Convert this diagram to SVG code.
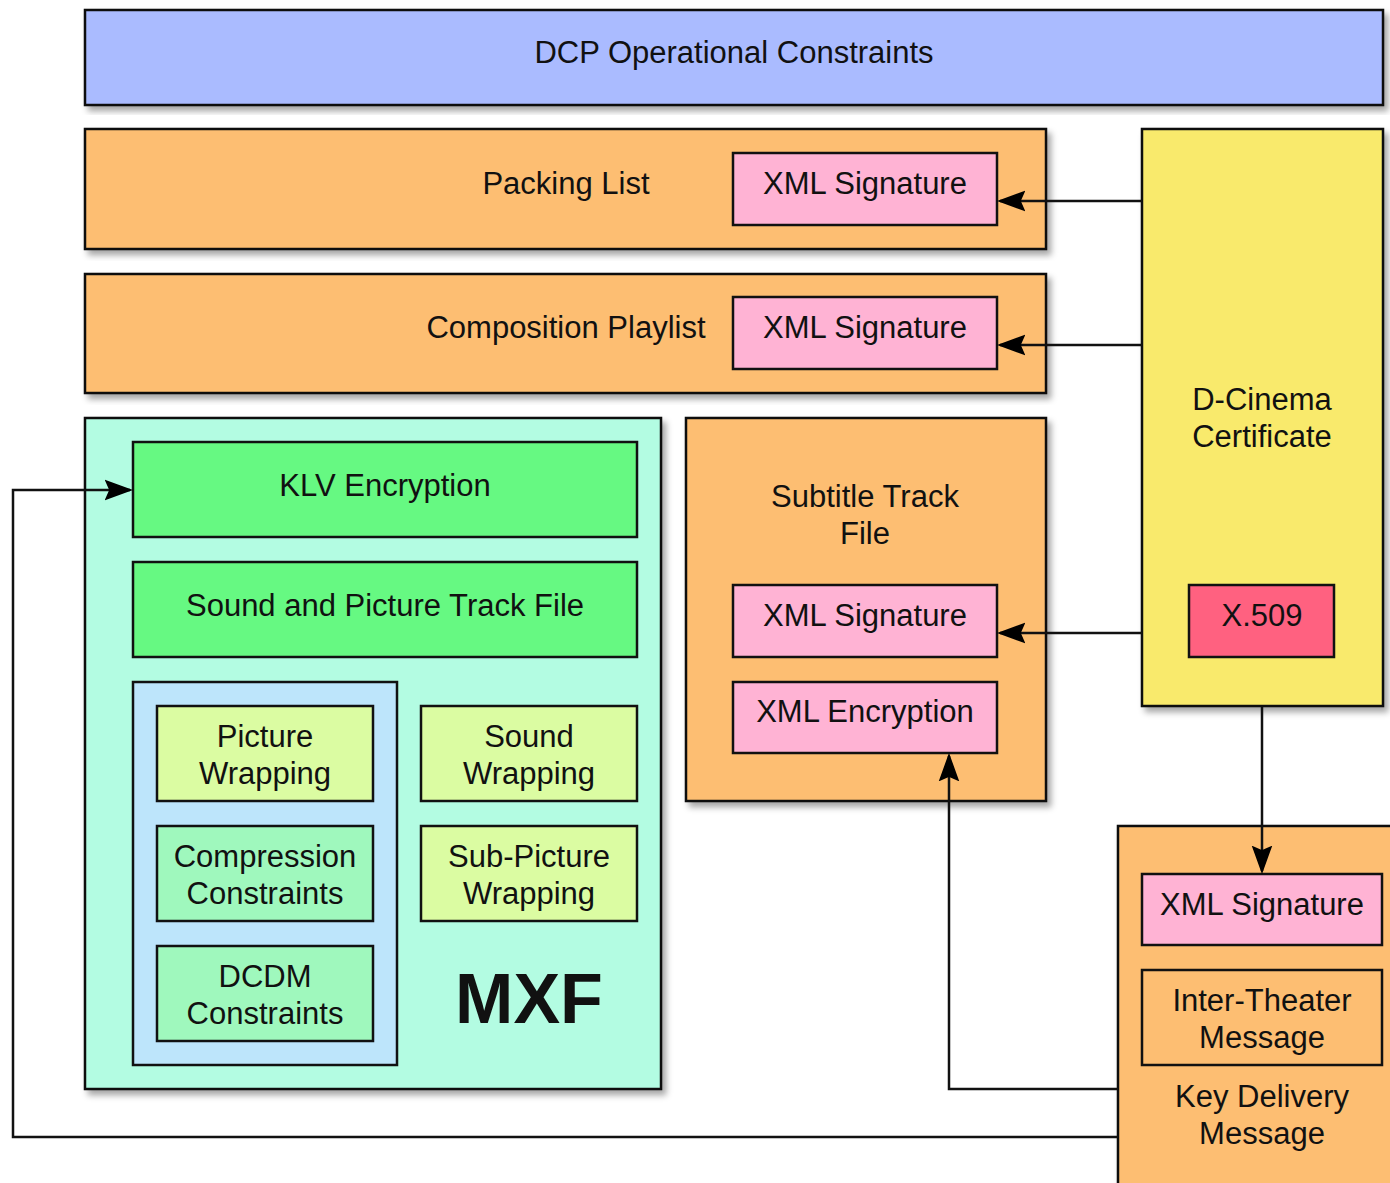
<svg xmlns="http://www.w3.org/2000/svg" width="1390" height="1183" viewBox="0 0 1390 1183">
<defs>
<filter id="sh" x="-5%" y="-5%" width="115%" height="115%">
<feDropShadow dx="4" dy="5" stdDeviation="3" flood-color="#000" flood-opacity="0.35"/>
</filter>
<marker id="ah" markerUnits="userSpaceOnUse" markerWidth="28" markerHeight="22" refX="25" refY="11" orient="auto" viewBox="0 0 28 22">
<path d="M1,2 L26,11 L1,20 L5,11 Z" fill="#000" stroke="#000" stroke-width="1.5" stroke-linejoin="miter"/>
</marker>
<style>
rect{stroke:#111;stroke-width:2.5}
.o{filter:url(#sh)}
text{font-family:"Liberation Sans",Arial,Helvetica,sans-serif;font-size:31px;fill:#111;text-anchor:middle}
.c{fill:none;stroke:#111;stroke-width:2.5}
.blue{fill:#aabbff}.orange{fill:#fdbe72}.pink{fill:#ffb3d4}.yellow{fill:#f9ea6c}.red{fill:#ff6180}
.green{fill:#66f982}.mint{fill:#b3fce2}.lblue{fill:#bde5fb}.pale{fill:#dbfca2}.lgreen{fill:#9ff8bd}
</style>
</defs>

<g id="dcp"><rect class="o blue" x="85" y="10" width="1298" height="95"/><text x="734" y="63">DCP Operational Constraints</text></g>

<g id="pkl"><rect class="o orange" x="85" y="129" width="961" height="120"/><text x="566" y="194">Packing List</text>
<g id="pkl-sig"><rect class="pink" x="733" y="153" width="264" height="72"/><text x="865" y="194">XML Signature</text></g></g>

<g id="cpl"><rect class="o orange" x="85" y="274" width="961" height="119"/><text x="566" y="338">Composition Playlist</text>
<g id="cpl-sig"><rect class="pink" x="733" y="297" width="264" height="72"/><text x="865" y="338">XML Signature</text></g></g>

<g id="cert"><rect class="o yellow" x="1142" y="129" width="241" height="577"/><text x="1262" y="410">D-Cinema</text><text x="1262" y="447">Certificate</text>
<g id="x509"><rect class="red" x="1189" y="585" width="145" height="72"/><text x="1262" y="626">X.509</text></g></g>

<g id="mxf"><rect class="o mint" x="85" y="418" width="576" height="671"/>
<text x="529" y="1023" style="font-size:70px;font-weight:bold">MXF</text>
<g id="klv"><rect class="green" x="133" y="442" width="504" height="95"/><text x="385" y="496">KLV Encryption</text></g>
<g id="spt"><rect class="green" x="133" y="562" width="504" height="95"/><text x="385" y="616">Sound and Picture Track File</text></g>
<g id="inner"><rect class="lblue" x="133" y="682" width="264" height="383"/></g>
<g id="pw"><rect class="pale" x="157" y="706" width="216" height="95"/><text x="265" y="747">Picture</text><text x="265" y="784">Wrapping</text></g>
<g id="cc"><rect class="lgreen" x="157" y="826" width="216" height="95"/><text x="265" y="867">Compression</text><text x="265" y="904">Constraints</text></g>
<g id="dc"><rect class="lgreen" x="157" y="946" width="216" height="95"/><text x="265" y="987">DCDM</text><text x="265" y="1024">Constraints</text></g>
<g id="sw"><rect class="pale" x="421" y="706" width="216" height="95"/><text x="529" y="747">Sound</text><text x="529" y="784">Wrapping</text></g>
<g id="spw"><rect class="pale" x="421" y="826" width="216" height="95"/><text x="529" y="867">Sub-Picture</text><text x="529" y="904">Wrapping</text></g>
</g>

<g id="sub"><rect class="o orange" x="686" y="418" width="360" height="383"/><text x="865" y="507">Subtitle Track</text><text x="865" y="544">File</text>
<g id="sub-sig"><rect class="pink" x="733" y="585" width="264" height="72"/><text x="865" y="626">XML Signature</text></g>
<g id="sub-enc"><rect class="pink" x="733" y="682" width="264" height="71"/><text x="865" y="722">XML Encryption</text></g></g>

<g id="kdm"><rect class="o orange" x="1118" y="826" width="290" height="380"/>
<g id="kdm-sig"><rect class="pink" x="1142" y="874" width="240" height="71"/><text x="1262" y="915">XML Signature</text></g>
<g id="itm"><rect class="orange" x="1142" y="970" width="240" height="95"/><text x="1262" y="1011">Inter-Theater</text><text x="1262" y="1048">Message</text></g>
<text x="1262" y="1107">Key Delivery</text><text x="1262" y="1144">Message</text></g>

<g id="connectors">
<path class="c" d="M1142,201 H1000" marker-end="url(#ah)"/>
<path class="c" d="M1142,345 H1000" marker-end="url(#ah)"/>
<path class="c" d="M1142,633 H1000" marker-end="url(#ah)"/>
<path class="c" d="M1262,707 V871" marker-end="url(#ah)"/>
<path class="c" d="M1118,1089 H949 V756" marker-end="url(#ah)"/>
<path class="c" d="M1118,1137 H13 V490 H130" marker-end="url(#ah)"/>
</g>
</svg>
